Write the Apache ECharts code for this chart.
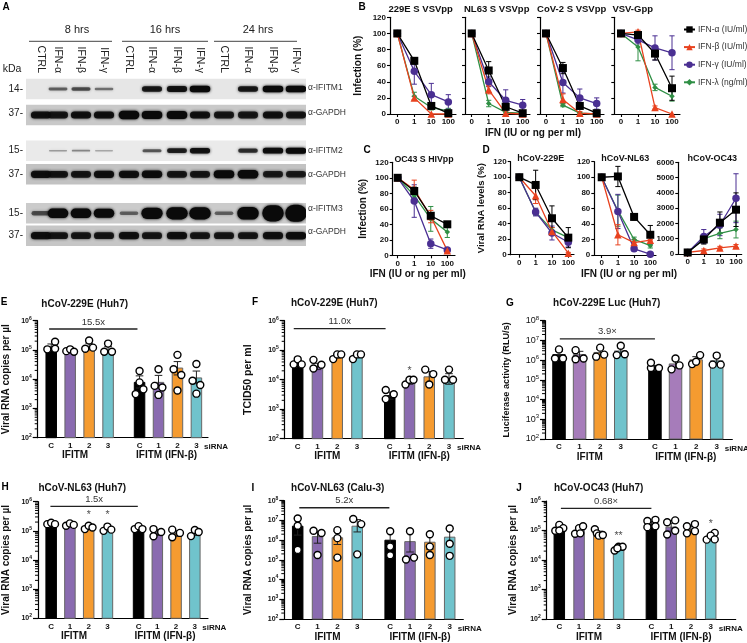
<!DOCTYPE html>
<html><head><meta charset="utf-8">
<style>html,body{margin:0;padding:0;background:#fff}#c{width:747px;height:643px}</style>
<script src="https://cdn.jsdelivr.net/npm/echarts@6/dist/echarts.min.js"></script></head>
<body><div id="c"></div>
<script>
// ---------- DATA ----------
const doseLabels = ['0','1','10','100'];
const ifnNames = ['IFN-α (IU/ml)','IFN-β (IU/ml)','IFN-γ (IU/ml)','IFN-λ (ng/ml)'];
// line panels: rows are alpha, beta, gamma, lambda
const b229eMean=[[100,66,10,1],[100,20,0,0],[100,53,24,15],[100,22,8,4]];
const b229eErr =[[0,4,3,3],[0,2,0,0],[0,16,14,9],[0,5,3,3]];
const bNl63Mean=[[100,54,9,1],[100,30,1,0],[100,40,17,11],[100,13,2,1]];
const bNl63Err =[[0,11,3,1],[0,5,2,0],[0,6,13,7],[0,4,2,1]];
const bCov2Mean=[[100,57,10,1],[100,18,1,0],[100,39,20,13],[100,11,1,0]];
const bCov2Err =[[0,7,3,1],[0,7,2,0],[0,13,11,7],[0,2,1,0]];
const bVsvMean =[[100,98,75,32],[100,102,8,0],[100,92,82,76],[100,83,33,22]];
const bVsvErr  =[[0,3,8,15],[0,2,2,0],[0,5,15,21],[0,17,4,6]];
const cOc43Mean=[[100,83,51,40],[100,85,50,6],[100,70,15,7],[100,77,47,30]];
const cOc43Err =[[0,5,3,2],[0,12,8,2],[0,21,6,2],[0,3,16,7]];
const d229eMean=[[100,90,47,22],[100,76,30,2],[100,55,28,16],[100,55,32,22]];
const d229eErr =[[0,19,16,13],[0,10,5,1],[0,5,9,6],[0,4,3,3]];
const dNl63Mean=[[100,101,49,26],[100,26,16,19],[100,56,8,1],[100,57,20,12]];
const dNl63Err =[[0,13,4,12],[0,13,4,1],[0,22,3,1],[0,20,3,3]];
const dOc43Mean=[[100,950,2050,2900],[100,230,400,520],[100,1150,1900,3650],[100,1000,1350,1600]];
const dOc43Err =[[0,300,700,1100],[0,100,100,100],[0,450,700,1600],[0,200,350,550]];
// bar panels
const barLabels=['C','1','2','3','C','1','2','3'];
const eBars=[1.3e5,9.5e4,1.3e5,1.0e5,8.1e3,8.1e3,2.5e4,1.15e4];
const eErr=[[1e5,1.6e5],[8.7e4,1.05e5],[1e5,1.7e5],[8.5e4,1.3e5],[5e3,1.3e4],[5e3,1.35e4],[1.4e4,4e4],[7e3,1.9e4]];
const eDots=[[1.05e5,1.9e5,1.1e5],[9.1e4,1.05e5,8.7e4],[1.1e5,2.1e5,1.2e5],[8.7e4,1.65e5,8.7e4],[3.1e3,7.8e3,4.5e3,1.9e4],[5.9e3,2.2e4,5.2e3,2.9e3],[2.2e4,6.8e4,1.4e4,4.1e3],[8.9e3,3.3e4,6.3e3,3.2e3]];
const fBars=[3.8e4,2.9e4,6.3e4,6.9e4,3.0e3,8.5e3,1.3e4,1.1e4];
const fErr=[[3e4,4.5e4],[2.2e4,3.6e4],[5.5e4,7.2e4],[6e4,7.5e4],[2.2e3,3.8e3],[7e3,1e4],[8e3,1.9e4],[7e3,1.6e4]];
const fDots=[[3.3e4,4.9e4,3.3e4],[4.7e4,2.4e4,3.2e4],[5e4,7.2e4,7.2e4],[5e4,7.2e4,7.2e4],[2.2e3,4.5e3,3.2e3],[6.9e3,1e4,1e4],[2.2e4,1.55e4,6.9e3],[1e4,2.2e4,1e4]];
const gBars=[2e6,2e6,2.6e6,3.1e6,3.8e5,6.8e5,1.1e6,9.8e5];
const gErr=[[1.2e6,2.8e6],[1.2e6,2.8e6],[1.7e6,3.5e6],[2e6,4.2e6],[3e5,5.4e5],[4e5,1e6],[7e5,1.5e6],[6e5,1.4e6]];
const gDots=[[1.2e6,3.5e6,1.2e6],[1.1e6,3.2e6,1.2e6],[1.5e6,4.3e6,1.9e6],[1.8e6,5.4e6,2e6],[4e5,7.4e5,4e5],[3.4e5,1.2e6,5.4e5],[6.3e5,1.8e6,8.3e5],[5.9e5,1.7e6,5.9e5]];
const hBars=[1.75e5,1.6e5,1.3e5,1.2e5,1.25e5,9e4,8.5e4,8.8e4];
const hErr=[[1.6e5,1.9e5],[1.45e5,1.75e5],[1.1e5,1.45e5],[1e5,1.35e5],[1.1e5,1.4e5],[7e4,1.1e5],[6.5e4,1e5],[7e4,1.05e5]];
const hDots=[[1.7e5,1.9e5,1.7e5],[1.5e5,1.8e5,1.6e5],[1.15e5,1.5e5,1.3e5],[1e5,1.4e5,1.1e5],[1.15e5,1.45e5,1.15e5],[1.15e5,6.5e4,9.1e4],[1.1e5,6e4,8.5e4],[6.6e4,1.07e5,9.1e4]];
const iBars=[5.4e6,1.6e6,1.4e6,5.4e6,1.05e6,8.9e5,8.3e5,1.5e6];
const iErr=[[1.8e6,1.3e7],[7e5,2.8e6],[6e5,2.8e6],[2.6e6,1.1e7],[4.5e5,2.8e6],[2.5e5,2.8e6],[3.5e5,2e6],[6.5e5,3.9e6]];
const iDots=[[1.26e7,5.4e6,3.2e5],[3e6,2.3e6,1.75e5],[3.2e6,1.26e6,1.3e5],[1.17e7,6.5e6,1.9e5],[2.8e6,4.7e5,1.7e5],[2.8e6,1.05e5,1.3e5],[2e6,4.7e5,1.75e5],[3.9e6,6.6e5,1.6e5]];
const jBars=[1.2e5,1.05e5,7.8e4,2.5e4,1.7e5,1.35e5,1.15e5,5.8e4];
const jErr=[[1e5,1.45e5],[8e4,1.3e5],[6.5e4,9.5e4],[2.2e4,2.8e4],[1.4e5,2e5],[9.5e4,1.75e5],[9e4,1.4e5],[4.9e4,7e4]];
const jDots=[[9.8e4,1.55e5,1.2e5,1e5],[7.8e4,1.2e5,1.4e5,8e4],[1.1e5,8e4,6.7e4,7e4],[2.1e4,2.8e4,2.8e4,2.5e4],[2.1e5,2.3e5,1.3e5,1.4e5],[1.9e5,2.2e5,7.3e4,9.8e4],[1.4e5,1.65e5,8e4,9.5e4],[4.9e4,8.3e4,6.7e4,5e4]];
// blot band strengths, one row per strip, twelve lanes
const laneNames=['CTRL','IFN-α','IFN-β','IFN-γ','CTRL','IFN-α','IFN-β','IFN-γ','CTRL','IFN-α','IFN-β','IFN-γ'];
const ifitm1=[0,.45,.55,.38,0,.85,.9,1,0,.85,1,1];
const gapdh1=[.9,.85,.9,.9,1.05,1,1,.9,.85,.85,.9,.85];
const ifitm2=[0,.2,.3,.15,0,.5,.8,.9,0,.7,.95,1];
const gapdh2=[.9,.85,.85,.9,.9,.95,.85,.85,1,1.05,.8,.8];
const ifitm3=[.5,1.05,1.05,1,.4,1.25,1.35,1.35,.4,1.4,1.8,1.9];
const gapdh3=[.9,.85,.85,.85,.9,.85,.9,.85,.85,.85,.9,.95];

// ---------- LAYOUT + STYLE ----------
const FONT='"Liberation Sans",Arial,sans-serif';
const ifnColors=['#000000','#e8421f','#4a2f92','#2f8f45'];
const ifnSymbols=['rect','triangle','circle','diamond'];
const ifnSizes=[8,7.5,7.5,5.5];
const barColors=['#000000','#8a6bb0','#f59b30','#70c3cc'];
const barSlots=[0,1,2,3,4.66,5.66,6.66,7.66];
const jitE=[[-1,1,1],[-1,0,1],[-1,0,1],[-1,0,1],[-1,0,1,0],[-1,0,1,0],[-1,0,1,0],[-1,0,1,0]];
const jit3=[[-1,0,1],[-1,-1,1],[-1,0,1],[-1,0,1],[-1,-1,1],[-1,0,1],[-1,1,0],[-1,0,1]];
const jitH=[[-1,0,1],[-1,0,1],[-1,0,1],[-1,0,1],[-1,0,1],[-1,-1,1],[-1,-1,1],[-1,0,1]];
const jitI=[[0,0,0],[-1,1,0],[0,0,0],[-1,1,0],[0,0,0],[0,-1,1],[0,0,0],[0,0,0]];
const jitJ=[[-1,0,1,0],[-1,0,1,.3],[-1,-.5,0,1],[-1,0,1,-.3],[-1,1,-1,1],[-1,1,-1,1],[-1,1,-1,1],[-1,1,0,1]];

const grids=[],xAxes=[],yAxes=[],series=[],graphics=[];
function label(text,x,y,o){o=o||{};graphics.push({type:'text',x:x,y:y,rotation:o.rot||0,silent:true,z:20,style:{
  text:text,x:0,y:0,fill:o.color||'#111',font:(o.bold?'bold ':'')+(o.size||9)+'px '+FONT,
  textAlign:o.align||'center',textVerticalAlign:'middle'}});}
function errItem(capPx,color){return function(p,api){
  const x=api.value(0),a=api.coord([x,api.value(1)]),b=api.coord([x,api.value(2)]);
  const st={stroke:color,lineWidth:1};
  return {type:'group',children:[
    {type:'line',shape:{x1:a[0],y1:a[1],x2:b[0],y2:b[1]},style:st},
    {type:'line',shape:{x1:a[0]-capPx,y1:b[1],x2:a[0]+capPx,y2:b[1]},style:st},
    {type:'line',shape:{x1:a[0]-capPx,y1:a[1],x2:a[0]+capPx,y2:a[1]},style:st}]};
};}
function axisBase(){return {show:true,onZero:false,lineStyle:{color:'#000',width:1.2}};}

function linePanel(g,mean,err,o){
  o=o||{};
  const gi=grids.length,dx=(g.x3-g.x0)/3;
  grids.push({left:g.axis,top:g.top,width:g.end-g.axis,height:g.bottom-g.top});
  xAxes.push({type:'value',gridIndex:gi,min:(g.axis-g.x0)/dx,max:(g.end-g.x0)/dx,axisLine:axisBase(),splitLine:{show:false},
    axisTick:{customValues:[0,1,2,3],length:3,lineStyle:{color:'#000',width:1.1}},
    axisLabel:{customValues:[0,1,2,3],formatter:function(v){return doseLabels[v];},fontFamily:FONT,fontWeight:'bold',fontSize:8,color:'#111',margin:4}});
  const ymax=o.max||120;
  yAxes.push({type:'value',gridIndex:gi,min:0,max:ymax,interval:ymax/6,axisLine:axisBase(),splitLine:{show:false},
    axisTick:{length:3,lineStyle:{color:'#000',width:1.1}},
    axisLabel:{show:!o.noLabels,formatter:function(v){return String(v);},fontFamily:FONT,fontWeight:'bold',fontSize:8,color:'#111',margin:4},
    name:o.yName||'',nameLocation:'middle',nameGap:o.nameGap||24,nameTextStyle:{fontFamily:FONT,fontWeight:'bold',fontSize:o.nameSize||10,color:'#111'}});
  [3,2,1,0].forEach(function(k){
    series.push({type:'custom',name:'err'+k,xAxisIndex:gi,yAxisIndex:gi,clip:false,silent:true,z:2,
      renderItem:errItem(2.6,ifnColors[k]),encode:{x:0,y:[1,2]},
      data:mean[k].map(function(v,i){return err[k][i]?[i,v-err[k][i],v+err[k][i]]:null;}).filter(Boolean)});
    series.push({type:'line',name:ifnNames[k],xAxisIndex:gi,yAxisIndex:gi,clip:false,silent:true,z:3,
      symbol:ifnSymbols[k],symbolSize:ifnSizes[k],showSymbol:true,
      lineStyle:{color:ifnColors[k],width:1.3},itemStyle:{color:ifnColors[k]},
      data:mean[k].map(function(v,i){return [i,v];})});
  });
}

function barPanel(p){
  const gi=grids.length;
  const sp=(p.x7-p.x0)/barSlots[7];
  grids.push({left:p.axis,top:p.top,width:p.end-p.axis,height:p.bottom-p.top});
  const xmin=(p.axis-p.x0)/sp,xmax=(p.end-p.x0)/sp;
  xAxes.push({type:'value',gridIndex:gi,min:xmin,max:xmax,axisLine:axisBase(),splitLine:{show:false},
    axisTick:{show:false},
    axisLabel:{customValues:barSlots,formatter:function(v){return barLabels[barSlots.indexOf(v)];},fontFamily:FONT,fontWeight:'bold',fontSize:8,color:'#111',margin:4,hideOverlap:false}});
  const lo=2,hi=p.hiExp,decades=[],minors=[];
  for(let e=lo;e<=hi;e++){decades.push(Math.pow(10,e));if(e<hi)for(let m=2;m<=9;m++)minors.push(m*Math.pow(10,e));}
  const sz=p.tickSize||7;
  yAxes.push({type:'log',logBase:10,gridIndex:gi,min:Math.pow(10,lo),max:Math.pow(10,hi),axisLine:axisBase(),splitLine:{show:false},
    axisTick:{customValues:decades,length:5,lineStyle:{color:'#000',width:1.2}},
    axisLabel:{customValues:decades,formatter:function(v){return '{b|10}{s|'+Math.round(Math.log10(v))+'}';},margin:6,
      rich:{b:{fontFamily:FONT,fontWeight:p.regularTicks?'normal':'bold',fontSize:sz+(p.regularTicks?2:0),color:'#111'},
            s:{fontFamily:FONT,fontWeight:p.regularTicks?'normal':'bold',fontSize:sz-2+(p.regularTicks?1:0),color:'#111',padding:[0,0,5,0]}}},
    name:p.yName,nameLocation:'middle',nameGap:p.axis-p.nameX,nameTextStyle:{fontFamily:FONT,fontWeight:'bold',fontSize:p.nameSize||10,color:'#111'}});
  const yi=yAxes.length-1;
  // the small log ticks between the decades
  series.push({type:'custom',xAxisIndex:gi,yAxisIndex:yi,silent:true,z:1,clip:false,encode:{x:0,y:1},
    renderItem:function(q,api){const c=api.coord([api.value(0),api.value(1)]);
      return {type:'line',shape:{x1:c[0],y1:c[1],x2:c[0]-3,y2:c[1]},style:{stroke:'#000',lineWidth:1}};},
    data:minors.map(function(v){return [xmin,v];})});
  series.push({type:'bar',xAxisIndex:gi,yAxisIndex:yi,barWidth:p.barW||11.5,z:2,silent:true,
    data:p.bars.map(function(v,i){const c=(p.colors||barColors)[i%4];return {value:[barSlots[i],v],itemStyle:{color:c,borderColor:i%4===0?'#000':'#666',borderWidth:1}};})});
  series.push({type:'custom',xAxisIndex:gi,yAxisIndex:yi,silent:true,z:3,renderItem:errItem(3.8,'#222'),encode:{x:0,y:[1,2]},
    data:p.err.map(function(e,i){return [barSlots[i],e[0],e[1]];})});
  const dots=[];
  p.dots.forEach(function(list,i){list.forEach(function(v,j){dots.push([barSlots[i]+p.jit[i][j]*4/sp,v]);});});
  series.push({type:'scatter',xAxisIndex:gi,yAxisIndex:yi,silent:true,z:4,symbol:'circle',symbolSize:7,clip:false,
    itemStyle:{color:'#fff',borderColor:'#000',borderWidth:1.4,opacity:1},data:dots});
  const mid=(p.fold.from+p.fold.to)/2;
  series.push({type:'line',xAxisIndex:gi,yAxisIndex:yi,silent:true,z:3,symbol:'circle',symbolSize:0,showSymbol:true,lineStyle:{color:'#222',width:1.3},
    label:{show:true,position:'top',distance:2,color:'#333',fontFamily:FONT,fontSize:9.5,formatter:function(q){return q.dataIndex===1?p.fold.text:'';}},
    data:[[p.fold.from,p.fold.y],[mid,p.fold.y],[p.fold.to,p.fold.y]]});
  if(p.stars)series.push({type:'scatter',xAxisIndex:gi,yAxisIndex:yi,silent:true,z:5,symbolSize:0,
    label:{show:true,position:'inside',color:'#222',fontFamily:FONT,fontSize:10.5,formatter:function(q){return q.data[2];}},
    data:p.stars.map(function(s){return [barSlots[s[0]],s[1],s[2]];})});
  const yL=p.bottom+18;
  const c1=(p.x0+(p.x0+3*sp))/2-(p.g1Shift||0),c2=p.x0+barSlots[4]*sp+1.5*sp+(p.g2Shift||0);
  label('siRNA',p.x7+ (p.siShift||20),p.bottom+9.5,{bold:true,size:8});
  label('IFITM',c1,yL,{bold:true,size:10});
  label('IFITM (IFN-β)',c2,yL,{bold:true,size:10});
}

// ---------- PANEL A: BLOT ----------
const laneX=[41,58,81,104,129,152,177,200,224,248,273,296];
const strips=[[89,'#e6e6e6',ifitm1,6.5],[115,'#c9c9c9',gapdh1,8],[150.7,'#eaeaea',ifitm2,6],[174.3,'#c2c2c2',gapdh2,8],[213.3,'#cbcbcb',ifitm3,9],[235.7,'#c6c6c6',gapdh3,8]];
(function(){
  const gi=grids.length;
  grids.push({left:26,top:79,width:280,height:168});
  xAxes.push({type:'value',gridIndex:gi,position:'top',min:26,max:306,axisLine:{show:false},axisTick:{show:false},splitLine:{show:false},
    axisLabel:{customValues:laneX,rotate:90,margin:6,color:'#222',fontFamily:FONT,fontSize:10.5,formatter:function(v){return laneNames[laneX.indexOf(v)];}}});
  yAxes.push({type:'value',gridIndex:gi,inverse:true,min:79,max:247,show:false,splitLine:{show:false}});
  series.push({type:'custom',xAxisIndex:gi,yAxisIndex:gi,silent:true,z:1,data:strips.map(function(s){return [s[0],0];}),
    encode:{x:1,y:0},
    renderItem:function(p,api){const a=api.coord([26,strips[p.dataIndex][0]-10.3]),b=api.coord([306,strips[p.dataIndex][0]+10.3]);
      return {type:'rect',shape:{x:a[0],y:a[1],width:b[0]-a[0],height:b[1]-a[1]},style:{fill:strips[p.dataIndex][1]}};}});
  const bandData=[];
  strips.forEach(function(s,r){s[2].forEach(function(v,l){if(v>0)bandData.push([laneX[l],s[0],v,s[3]]);});});
  series.push({type:'custom',xAxisIndex:gi,yAxisIndex:gi,silent:true,z:2,clip:true,data:bandData,encode:{x:0,y:1},
    renderItem:function(p,api){const c=api.coord([api.value(0),api.value(1)]),v=api.value(2),h=Math.max(1.5,api.value(3)*v),w=17.5+3*Math.min(v,1.3);
      const alpha=Math.min(1,.15+.85*v),col='rgba(10,10,10,'+alpha+')';
      return {type:'rect',shape:{x:c[0]-w/2,y:c[1]-h/2,width:w,height:h,r:h/2},style:{fill:col,shadowBlur:3,shadowColor:col}};}});
  [[29,112,77,'8 hrs'],[122,208,165,'16 hrs'],[214,297,258,'24 hrs']].forEach(function(t){
    graphics.push({type:'line',silent:true,shape:{x1:t[0],y1:41.3,x2:t[1],y2:41.3},style:{stroke:'#444',lineWidth:1}});
    label(t[3],t[2],29.5,{size:11,color:'#222'});
  });
  label('kDa',12,69,{size:10.5,color:'#222'});
  [['14-',89],['37-',113],['15-',150],['37-',174],['15-',213],['37-',235.5]].forEach(function(t){label(t[0],23,t[1],{size:10,align:'right',color:'#222'});});
  [['α-IFITM1',88],['α-GAPDH',113],['α-IFITM2',151],['α-GAPDH',175],['α-IFITM3',209],['α-GAPDH',232]].forEach(function(t){label(t[0],308,t[1],{size:8.5,align:'left',color:'#333'});});
})();

// ---------- PANELS B,C,D ----------
linePanel({axis:390,x0:397.3,x3:448.3,end:456,top:17.3,bottom:114},b229eMean,b229eErr,{yName:'Infection (%)',nameGap:27});
linePanel({axis:465,x0:471.7,x3:522.7,end:530,top:17.3,bottom:114},bNl63Mean,bNl63Err,{noLabels:true});
linePanel({axis:540,x0:546,x3:596.7,end:604,top:17.3,bottom:114},bCov2Mean,bCov2Err,{noLabels:true});
linePanel({axis:614.3,x0:621,x3:672,end:680,top:17.3,bottom:114},bVsvMean,bVsvErr,{noLabels:true});
linePanel({axis:392.7,x0:397.7,x3:447.3,end:455,top:162.3,bottom:255.3},cOc43Mean,cOc43Err,{yName:'Infection (%)',nameGap:24});
linePanel({axis:510.7,x0:519.3,x3:568.3,end:574,top:161.7,bottom:254.7},d229eMean,d229eErr,{yName:'Viral RNA levels (%)',nameGap:24,nameSize:9.5});
linePanel({axis:594.3,x0:601.7,x3:650.3,end:656,top:161.7,bottom:255},dNl63Mean,dNl63Err);
linePanel({axis:678.3,x0:687.7,x3:736,end:741.7,top:162.3,bottom:254},dOc43Mean,dOc43Err,{max:6000});

[['229E S VSVpp',420.7,9,9.5],['NL63 S VSVpp',496.7,9,9.5],['CoV-2 S VSVpp',571.7,9,9.5],['VSV-Gpp',632.7,9,9.5],['OC43 S HIVpp',424,160,8.8],['hCoV-229E',540.7,158.5,9],['hCoV-NL63',625.3,159,9],['hCoV-OC43',712.3,159,9]]
  .forEach(function(t){label(t[0],t[1],t[2],{bold:true,size:t[3]});});
label('IFN (IU or ng per ml)',533,133.5,{bold:true,size:10});
label('IFN (IU or ng per ml)',417.7,274,{bold:true,size:10});
label('IFN (IU or ng per ml)',629,274,{bold:true,size:10});

// ---------- PANELS E-J ----------
const RNA='Viral RNA copies per µl';
barPanel({axis:31.7,end:208,top:320.7,bottom:437.7,x0:45.7,x7:196,hiExp:6,yName:RNA,nameX:5,bars:eBars,err:eErr,dots:eDots,jit:jitE,
  fold:{from:-.11,to:4.55,y:5.2e5,text:'15.5x'}});
barPanel({axis:284.7,end:463.3,top:320.7,bottom:438.7,x0:297.7,x7:449,hiExp:6,nameSize:10.5,yName:'TCID50 per ml',nameX:254,bars:fBars,err:fErr,dots:fDots,jit:jit3,
  fold:{from:-.2,to:4.45,y:5.4e5,text:'11.0x'},stars:[[5,2e4,'*']]});
barPanel({axis:545,end:732.3,top:320.7,bottom:439,x0:559,x7:716.7,hiExp:8,barW:13.5,regularTicks:true,nameSize:9.2,yName:'Luciferase activity (RLU/s)',nameX:511,bars:gBars,err:gErr,dots:gDots,jit:jit3,
  colors:['#000000','#a67cba','#f59b30','#70c3cc'],fold:{from:.04,to:4.66,y:1.2e7,text:'3.9×'}});
barPanel({axis:31,end:208,top:501.7,bottom:618.3,x0:44.7,x7:194.3,hiExp:6,yName:RNA,nameX:4,bars:hBars,err:hErr,dots:hDots,jit:jitH,
  fold:{from:-.04,to:4.62,y:6.9e5,text:'1.5x'},stars:[[2,3.4e5,'*'],[3,3.4e5,'*']]});
barPanel({axis:284.3,end:463.3,top:500.7,bottom:619,x0:297.7,x7:449.7,hiExp:8,yName:RNA,nameX:253,bars:iBars,err:iErr,dots:iDots,jit:jitI,
  fold:{from:.08,to:4.62,y:4.4e7,text:'5.2x'}});
barPanel({axis:546.7,end:735.7,top:501,bottom:619,x0:559.3,x7:710.7,hiExp:6,yName:RNA,nameX:518,bars:jBars,err:jErr,dots:jDots,jit:jitJ,
  fold:{from:.08,to:4.66,y:5.6e5,text:'0.68×'},stars:[[3,6.5e4,'**'],[7,1.6e5,'*']]});

[['hCoV-229E (Huh7)',84.7,304],['hCoV-229E (Huh7)',334.3,303],['hCoV-229E Luc (Huh7)',606.7,303],['hCoV-NL63 (Huh7)',82.3,488.3],['hCoV-NL63 (Calu-3)',337.7,488.3],['hCoV-OC43 (Huh7)',598.7,488.3]]
  .forEach(function(t){label(t[0],t[1],t[2],{bold:true,size:10});});
[['A',6,7],['B',362,7],['C',367,150],['D',486,150],['E',4,302],['F',255,302],['G',510,303],['H',5,487],['I',253,488],['J',519,488]]
  .forEach(function(t){label(t[0],t[1],t[2],{bold:true,size:10,color:'#000'});});

const chart=echarts.init(document.getElementById('c'),null,{renderer:'canvas'});
chart.setOption({animation:false,backgroundColor:'#fff',grid:grids,xAxis:xAxes,yAxis:yAxes,series:series,graphic:graphics,
  legend:{show:true,orient:'vertical',left:683,top:25,padding:0,itemWidth:11,itemHeight:8,itemGap:8.6,selectedMode:false,data:ifnNames,
    textStyle:{fontFamily:FONT,fontSize:8.5,color:'#333',padding:[0,0,0,-2]}}});
</script></body></html>
